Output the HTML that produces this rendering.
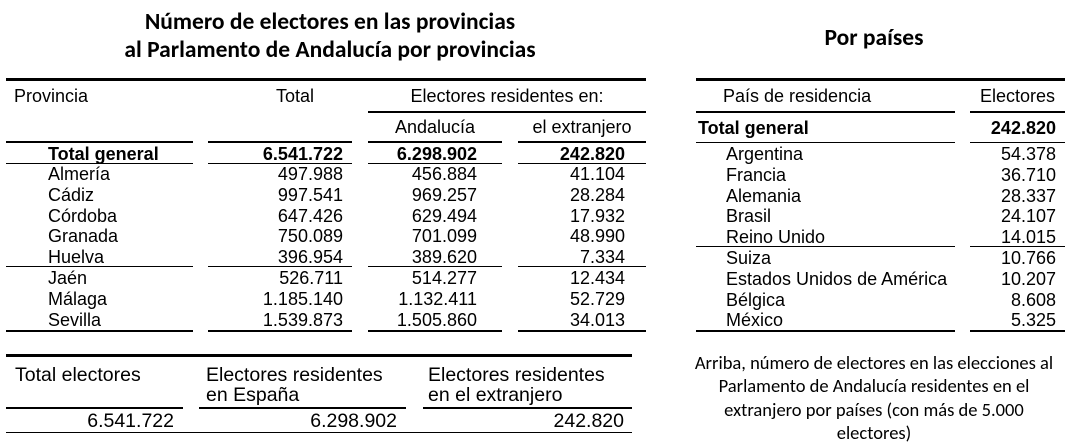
<!DOCTYPE html>
<html><head><meta charset="utf-8"><style>
body{margin:0;width:1076px;height:446px;background:#fff;position:relative;overflow:hidden;font-family:"Liberation Sans",Arial,sans-serif;color:#000}
div{position:absolute;white-space:nowrap}
.l{background:#000}
.t{font-size:18px;line-height:20px}
.r{text-align:right}
.c{text-align:center}
.b{font-weight:bold}
.ti{font-family:"Carlito","Liberation Sans",sans-serif;font-weight:bold;font-size:23.5px;line-height:28px}
.bt{font-size:19.5px}
</style></head><body>
<div class="ti c" style="left:80px;width:500px;top:8px">Número de electores en las provincias</div>
<div class="ti c" style="left:80px;width:500px;top:36px">al Parlamento de Andalucía por provincias</div>
<div class="ti c" style="left:774px;width:200px;top:24px">Por países</div>

<div class="l" style="left:6px;width:640px;top:78px;height:3px"></div>
<div class="l" style="left:368px;width:278px;top:111px;height:2px"></div>
<div class="l" style="left:6px;width:187px;top:141px;height:2px"></div>
<div class="l" style="left:208px;width:144px;top:141px;height:2px"></div>
<div class="l" style="left:368px;width:134px;top:141px;height:2px"></div>
<div class="l" style="left:518px;width:128px;top:141px;height:2px"></div>
<div class="l" style="left:6px;width:187px;top:163px;height:1px"></div>
<div class="l" style="left:208px;width:144px;top:163px;height:1px"></div>
<div class="l" style="left:368px;width:134px;top:163px;height:1px"></div>
<div class="l" style="left:518px;width:128px;top:163px;height:1px"></div>
<div class="l" style="left:6px;width:187px;top:266px;height:1px"></div>
<div class="l" style="left:208px;width:144px;top:266px;height:1px"></div>
<div class="l" style="left:368px;width:134px;top:266px;height:1px"></div>
<div class="l" style="left:518px;width:128px;top:266px;height:1px"></div>
<div class="l" style="left:6px;width:187px;top:330px;height:2px"></div>
<div class="l" style="left:208px;width:144px;top:330px;height:2px"></div>
<div class="l" style="left:368px;width:134px;top:330px;height:2px"></div>
<div class="l" style="left:518px;width:128px;top:330px;height:2px"></div>

<div class="t" style="left:14px;top:86px">Provincia</div>
<div class="t c" style="left:245px;width:100px;top:86px">Total</div>
<div class="t c" style="left:368px;width:278px;top:86px">Electores residentes en:</div>
<div class="t c" style="left:368px;width:134px;top:117px">Andalucía</div>
<div class="t c" style="left:518px;width:128px;top:117px">el extranjero</div>

<div class="t b" style="left:48px;top:144px">Total general</div>
<div class="t b r" style="left:200px;width:143px;top:144px">6.541.722</div>
<div class="t b r" style="left:360px;width:117px;top:144px">6.298.902</div>
<div class="t b r" style="left:500px;width:125px;top:144px">242.820</div>

<div class="t" style="left:48px;top:164px;line-height:20.8px">Almería<br>Cádiz<br>Córdoba<br>Granada<br>Huelva<br>Jaén<br>Málaga<br>Sevilla</div>
<div class="t r" style="left:200px;width:143px;top:164px;line-height:20.8px">497.988<br>997.541<br>647.426<br>750.089<br>396.954<br>526.711<br>1.185.140<br>1.539.873</div>
<div class="t r" style="left:360px;width:117px;top:164px;line-height:20.8px">456.884<br>969.257<br>629.494<br>701.099<br>389.620<br>514.277<br>1.132.411<br>1.505.860</div>
<div class="t r" style="left:500px;width:125px;top:164px;line-height:20.8px">41.104<br>28.284<br>17.932<br>48.990<br>7.334<br>12.434<br>52.729<br>34.013</div>

<div class="l" style="left:6px;width:626px;top:354px;height:3px"></div>
<div class="t bt" style="left:15px;top:365px">Total electores</div>
<div class="t bt" style="left:206px;top:365px;line-height:20px">Electores residentes<br>en España</div>
<div class="t bt" style="left:428px;top:365px;line-height:20px">Electores residentes<br>en el extranjero</div>
<div class="l" style="left:6px;width:177px;top:407px;height:2px"></div>
<div class="l" style="left:199px;width:207px;top:407px;height:2px"></div>
<div class="l" style="left:423px;width:209px;top:407px;height:2px"></div>
<div class="t r bt" style="left:20px;width:154px;top:411px">6.541.722</div>
<div class="t r bt" style="left:200px;width:197px;top:411px">6.298.902</div>
<div class="t r bt" style="left:420px;width:204px;top:411px">242.820</div>
<div class="l" style="left:6px;width:626px;top:432px;height:1px"></div>

<div class="l" style="left:696px;width:369px;top:78px;height:3px"></div>
<div class="t" style="left:723px;top:86px">País de residencia</div>
<div class="t c" style="left:970px;width:95px;top:86px">Electores</div>
<div class="l" style="left:696px;width:259px;top:111px;height:2px"></div>
<div class="l" style="left:970px;width:95px;top:111px;height:2px"></div>
<div class="t b" style="left:698px;top:118px">Total general</div>
<div class="t b r" style="left:960px;width:96px;top:118px">242.820</div>
<div class="l" style="left:696px;width:259px;top:142px;height:1px"></div>
<div class="l" style="left:970px;width:95px;top:142px;height:1px"></div>
<div class="t" style="left:726px;top:144px;line-height:20.8px">Argentina<br>Francia<br>Alemania<br>Brasil<br>Reino Unido<br>Suiza<br>Estados Unidos de América<br>Bélgica<br>México</div>
<div class="t r" style="left:960px;width:96px;top:144px;line-height:20.8px">54.378<br>36.710<br>28.337<br>24.107<br>14.015<br>10.766<br>10.207<br>8.608<br>5.325</div>
<div class="l" style="left:696px;width:259px;top:246px;height:1px"></div>
<div class="l" style="left:970px;width:95px;top:246px;height:1px"></div>
<div class="l" style="left:696px;width:259px;top:330px;height:2px"></div>
<div class="l" style="left:970px;width:95px;top:330px;height:2px"></div>

<div class="c" style="left:650px;width:448px;top:351px;font-family:'Carlito','Liberation Sans',sans-serif;font-size:18.5px;line-height:23.3px">Arriba, número de electores en las elecciones al<br>Parlamento de Andalucía residentes en el<br>extranjero por países (con más de 5.000<br>electores)</div>
</body></html>
